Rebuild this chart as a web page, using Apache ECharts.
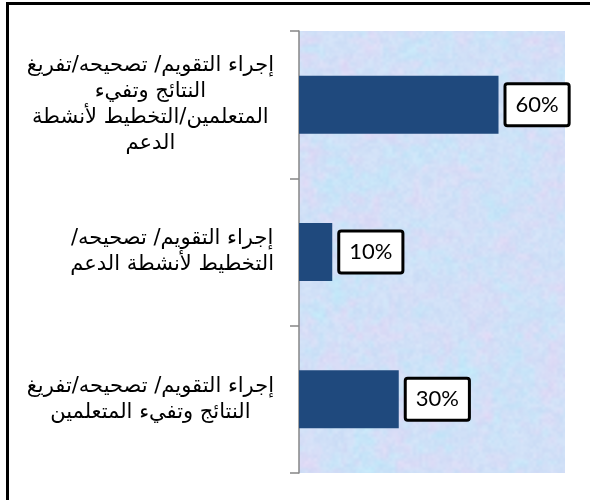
<!DOCTYPE html>
<html>
<head>
<meta charset="utf-8">
<script src="https://cdn.jsdelivr.net/npm/echarts@6/dist/echarts.min.js"></script>
<style>
  html, body { margin: 0; padding: 0; background: #fff; }
  #chart { width: 590px; height: 500px; direction: rtl; }
</style>
</head>
<body>
<div id="chart"></div>
<script>
// Categories listed bottom-to-top, as a category y-axis stacks them
const categories = [
  'إجراء التقويم/ تصحيحه/تفريغ\nالنتائج وتفيء المتعلمين',
  'إجراء التقويم/ تصحيحه/\nالتخطيط لأنشطة الدعم',
  'إجراء التقويم/ تصحيحه/تفريغ\nالنتائج وتفيء\nالمتعلمين/التخطيط لأنشطة\nالدعم'
];
const shares = [0.30, 0.10, 0.60];
const axisMax = 0.8;

// Soft pastel blue/lavender paper texture for the plot background (deterministic value noise)
function hash(x, y, s) {
  let h = Math.imul(x, 374761393) + Math.imul(y, 668265263) + Math.imul(s, 982451653);
  h = Math.imul(h ^ (h >>> 13), 1274126177);
  return ((h ^ (h >>> 16)) >>> 0) / 4294967295;
}
function smooth(t) { return t * t * (3 - 2 * t); }
function noise(x, y, cell, s) {
  const gx = x / cell, gy = y / cell;
  const x0 = Math.floor(gx), y0 = Math.floor(gy);
  const fx = smooth(gx - x0), fy = smooth(gy - y0);
  const a = hash(x0, y0, s), b = hash(x0 + 1, y0, s);
  const c = hash(x0, y0 + 1, s), d = hash(x0 + 1, y0 + 1, s);
  return (a + (b - a) * fx) + ((c + (d - c) * fx) - (a + (b - a) * fx)) * fy;
}
function makeTexture(w, h) {
  const cv = document.createElement('canvas');
  cv.width = w; cv.height = h;
  const ctx = cv.getContext('2d');
  const img = ctx.createImageData(w, h);
  for (let y = 0; y < h; y++) {
    for (let x = 0; x < w; x++) {
      const lav = noise(x, y, 22, 1) * 0.55 + noise(x, y, 8, 2) * 0.45;
      const cyan = noise(x, y, 26, 3) * 0.55 + noise(x, y, 7, 4) * 0.45;
      const grain = noise(x, y, 3, 5) * 0.5 + noise(x, y, 5, 6) * 0.5;
      let r = 208, g = 224, b = 247;
      const p = Math.max(0, lav - 0.45) * 1.8;
      r += 16 * p; g -= 8 * p; b -= 2 * p;
      const c = Math.max(0, cyan - 0.45) * 1.8;
      r -= 16 * c; g += 8 * c; b += 2 * c;
      const k = (grain - 0.5) * 14;
      r += k; g += k * 0.8; b += k * 0.3;
      const i = (y * w + x) * 4;
      img.data[i] = Math.max(0, Math.min(255, r));
      img.data[i + 1] = Math.max(0, Math.min(255, g));
      img.data[i + 2] = Math.max(0, Math.min(255, b));
      img.data[i + 3] = 255;
    }
  }
  ctx.putImageData(img, 0, 0);
  return cv;
}

const chart = echarts.init(document.getElementById('chart'), null, { renderer: 'canvas' });

chart.setOption({
  animation: false,
  backgroundColor: '#ffffff',
  grid: {
    left: 299, right: 25, top: 31, bottom: 27,
    show: true,
    borderWidth: 0,
    backgroundColor: { image: makeTexture(590, 500), repeat: 'no-repeat' }
  },
  xAxis: {
    type: 'value',
    min: 0,
    max: axisMax,
    show: false
  },
  yAxis: {
    type: 'category',
    data: categories,
    axisLine: { show: true, lineStyle: { color: '#868686', width: 1.5 } },
    axisTick: { show: true, length: 9, lineStyle: { color: '#868686', width: 1.5 } },
    axisLabel: {
      margin: 25,
      align: 'right',
      formatter: function (v) {
        return v.split('\n').map(function (line) { return '{c|' + line + '}'; }).join('\n');
      },
      rich: {
        c: {
          align: 'center',
          fontFamily: '"DejaVu Sans", sans-serif',
          fontSize: 21,
          lineHeight: 26,
          color: '#000'
        }
      }
    },
    splitLine: { show: false }
  },
  series: [{
    type: 'bar',
    data: shares,
    barWidth: 58,
    itemStyle: { color: '#1f497d' },
    label: {
      show: true,
      position: 'right',
      distance: 8,
      formatter: function (p) { return Math.round(p.value * 100) + '%'; },
      fontFamily: 'Lato, sans-serif',
      fontSize: 22,
      color: '#000',
      backgroundColor: '#ffffff',
      borderColor: '#000000',
      borderWidth: 3,
      borderRadius: 1,
      padding: [9, 9, 8, 9]
    }
  }],
  graphic: [{
    type: 'rect',
    silent: true,
    shape: { x: 7.5, y: 3.5, width: 640, height: 560 },
    style: { fill: null, stroke: '#000', lineWidth: 3 }
  }]
});
</script>
</body>
</html>
